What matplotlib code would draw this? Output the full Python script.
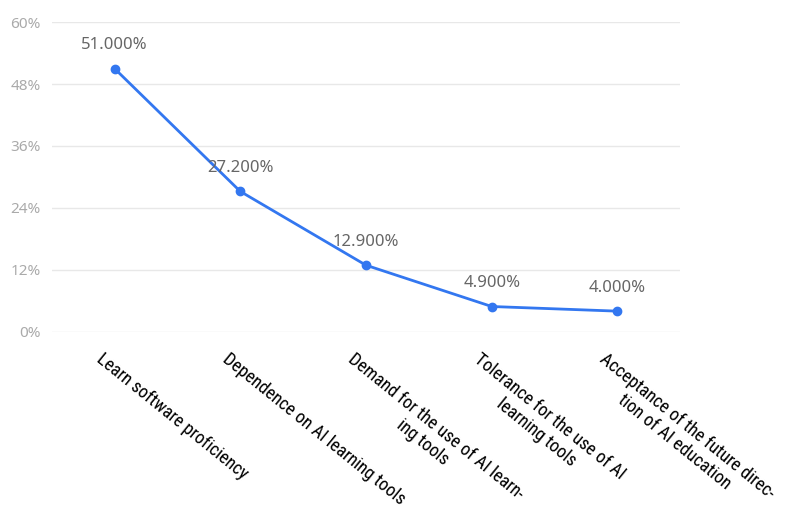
import matplotlib
matplotlib.use("Agg")
import matplotlib.pyplot as plt
from matplotlib import font_manager

categories = [
    "Learn software proficiency",
    "Dependence on AI learning tools",
    "Demand for the use of AI learn-\ning tools",
    "Tolerance for the use of AI\nlearning tools",
    "Acceptance of the future direc-\ntion of AI education",
]
values = [51.0, 27.2, 12.9, 4.9, 4.0]
y_ticks = [0, 12, 24, 36, 48, 60]

# narrow font for the axis labels, if one is around
names = {f.name for f in font_manager.fontManager.ttflist}
label_font = ["DejaVu Sans"]
for cand in ["Liberation Sans Narrow", "Roboto Condensed", "Open Sans Condensed", "DejaVu Sans Condensed"]:
    if cand in names:
        label_font = [cand, "DejaVu Sans"]
        break

fig = plt.figure(figsize=(8.07, 5.25), dpi=100)
ax = fig.add_axes([0.064, 0.368, 0.779, 0.59])

x = list(range(len(values)))
ax.plot(x, values, color="#3377f0", linewidth=2, marker="o", markersize=6, zorder=3)

for xi, v in zip(x, values):
    ax.annotate(f"{v:.3f}%", (xi, v), xytext=(0, 11), textcoords="offset points",
                ha="center", va="bottom", fontsize=12, color="#666666",
                family="Noto Sans")

ax.set_xlim(-0.5, len(values) - 0.5)
ax.set_ylim(0, 60)
ax.set_yticks(y_ticks)
ax.set_yticklabels([f"{t}%" for t in y_ticks], color="#aaaaaa", fontsize=11, family="Noto Sans")
ax.yaxis.grid(True, color="#e8e8e8", linewidth=1)
ax.set_axisbelow(True)
ax.tick_params(axis="y", length=0, pad=8)
ax.tick_params(axis="x", length=0)
for s in ax.spines.values():
    s.set_visible(False)

ax.set_xticks(x)
ax.set_xticklabels([])
for xi, lab in zip(x, categories):
    ax.text(xi - 0.08, -3.5, lab, rotation=-39, rotation_mode="anchor",
            ha="left", va="top", multialignment="center", fontsize=13,
            color="#000000", family=label_font,
            fontstretch="condensed", transform=ax.transData, clip_on=False)

fig.savefig("out.png", dpi=100)
